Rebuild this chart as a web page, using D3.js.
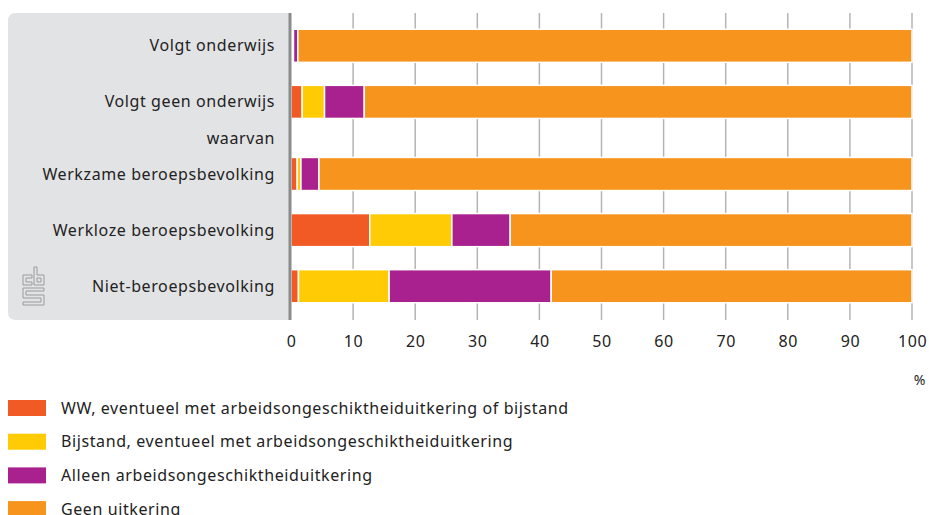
<!DOCTYPE html>
<html lang="nl">
<head>
	<meta charset="utf-8">
	<title>Uitkeringen naar onderwijs en arbeidspositie</title>
	<script src="https://cdn.jsdelivr.net/npm/d3@7/dist/d3.min.js"></script>
	<style>
		body { margin: 0; background: #fff; }
		svg text { font-family: "Noto Sans", "Open Sans", sans-serif; fill: #222; letter-spacing: 0.6px; }
	</style>
</head>
<body>
<script>

	// Data (in %)
	var categories = ["Volgt onderwijs", "Volgt geen onderwijs", "Werkzame beroepsbevolking", "Werkloze beroepsbevolking", "Niet-beroepsbevolking"];
	var seriesNames = ["WW, eventueel met arbeidsongeschiktheiduitkering of bijstand",
	                   "Bijstand, eventueel met arbeidsongeschiktheiduitkering",
	                   "Alleen arbeidsongeschiktheiduitkering",
	                   "Geen uitkering"];
	var ww       = [0.2, 1.8, 1.0, 12.7, 1.2];
	var bijstand = [0.2, 3.6, 0.6, 13.2, 14.6];
	var aoOnly   = [0.7, 6.4, 2.9, 9.4, 26.1];
	var geen     = [98.9, 88.2, 95.5, 64.7, 58.1];
	var xTicks = [0, 10, 20, 30, 40, 50, 60, 70, 80, 90, 100];
	var colors = ["#f15a24", "#ffcb05", "#a8218e", "#f7941d"];

	var width = 929, height = 515;
	var svg = d3.select("body").append("svg")
		.attr("width", width)
		.attr("height", height);

	// Plot area
	var plotLeft = 291, plotRight = 912, plotTop = 13, plotBottom = 320;

	var xScale = d3.scaleLinear().domain([0, 100]).range([plotLeft, plotRight]);

	// rows: first two in one block, the "waarvan" rows shifted down a bit
	var yScale = d3.scaleBand()
		.domain(categories)
		.range([18, 298])
		.paddingInner(0.41)
		.paddingOuter(0.2);
	var waarvanShift = 16;
	function rowY(c) {
		var i = categories.indexOf(c);
		return yScale(c) + (i >= 2 ? waarvanShift : 0);
	}

	// grey label panel
	svg.append("path")
		.attr("d", "M" + plotLeft + "," + plotTop + " H16 Q8," + plotTop + " 8," + (plotTop + 8) +
			" V" + (plotBottom - 8) + " Q8," + plotBottom + " 16," + plotBottom + " H" + plotLeft + " Z")
		.attr("fill", "#e2e3e5");

	// gridlines
	svg.append("g")
		.selectAll("line")
		.data(xTicks.slice(1))
		.enter().append("line")
		.attr("x1", function(d) { return xScale(d); })
		.attr("x2", function(d) { return xScale(d); })
		.attr("y1", plotTop)
		.attr("y2", plotBottom)
		.attr("stroke", "#b4b4b4")
		.attr("stroke-width", 1.5);

	// stacked bars
	var table = categories.map(function(c, i) {
		return { cat: c, ww: ww[i], bijstand: bijstand[i], ao: aoOnly[i], geen: geen[i] };
	});
	var stack = d3.stack().keys(["ww", "bijstand", "ao", "geen"]);
	var layers = stack(table);

	svg.append("g")
		.selectAll("g")
		.data(layers)
		.enter().append("g")
		.attr("fill", function(d, i) { return colors[i]; })
		.selectAll("rect")
		.data(function(d) { return d; })
		.enter().append("rect")
		.attr("x", function(d) { return xScale(d[0]); })
		.attr("y", function(d) { return rowY(d.data.cat); })
		.attr("width", function(d) { return Math.max(0, xScale(d[1]) - xScale(d[0])); })
		.attr("height", yScale.bandwidth())
		.attr("stroke", "#fff")
		.attr("stroke-width", 1.5);

	// vertical axis line
	svg.append("line")
		.attr("x1", plotLeft - 1).attr("x2", plotLeft - 1)
		.attr("y1", plotTop).attr("y2", plotBottom)
		.attr("stroke", "#8a8b8d")
		.attr("stroke-width", 3);

	// category labels
	svg.append("g")
		.selectAll("text")
		.data(categories)
		.enter().append("text")
		.attr("x", 275)
		.attr("y", function(d) { return rowY(d) + yScale.bandwidth() / 2; })
		.attr("dy", "0.35em")
		.attr("text-anchor", "end")
		.attr("font-size", 16)
		.text(function(d) { return d; });

	svg.append("text")
		.attr("x", 275)
		.attr("y", (rowY(categories[1]) + yScale.bandwidth() + rowY(categories[2])) / 2)
		.attr("dy", "0.35em")
		.attr("text-anchor", "end")
		.attr("font-size", 16)
		.text("waarvan");

	// x axis labels
	var xAxis = d3.axisBottom(xScale).tickValues(xTicks).tickSize(0).tickPadding(16);
	var gx = svg.append("g")
		.attr("transform", "translate(0," + plotBottom + ")")
		.call(xAxis);
	gx.select(".domain").remove();
	gx.selectAll("text")
		.attr("font-size", 16)
		.style("font-family", "\"Noto Sans\", sans-serif")
		.attr("fill", "#222");

	svg.append("text")
		.attr("x", 926)
		.attr("y", 385)
		.attr("text-anchor", "end")
		.attr("font-size", 14)
		.text("%");

	// cbs logo (outline)
	var logo = svg.append("g")
		.attr("transform", "translate(23,267)")
		.attr("fill", "none")
		.attr("stroke", "#9a9b9d")
		.attr("stroke-width", 1);
	logo.append("path").attr("d", "M9,8 H0 V18 H9 V15 H3 V11 H9 Z");
	logo.append("path").attr("d", "M11,0 H14 V8 H21 V18 H11 Z M14,11 H18 V15 H14 Z");
	logo.append("path").attr("d", "M0,21 H21 V24 H3 V28 H21 V38 H0 V35 H18 V31 H0 Z");

	// legend
	var legend = svg.append("g")
		.selectAll("g")
		.data(seriesNames)
		.enter().append("g")
		.attr("transform", function(d, i) { return "translate(8," + (400 + i * 33.7) + ")"; });
	legend.append("rect")
		.attr("width", 38)
		.attr("height", 16)
		.attr("fill", function(d, i) { return colors[i]; });
	legend.append("text")
		.attr("x", 53)
		.attr("y", 8)
		.attr("dy", "0.35em")
		.attr("font-size", 16)
		.text(function(d) { return d; });

</script>
</body>
</html>
